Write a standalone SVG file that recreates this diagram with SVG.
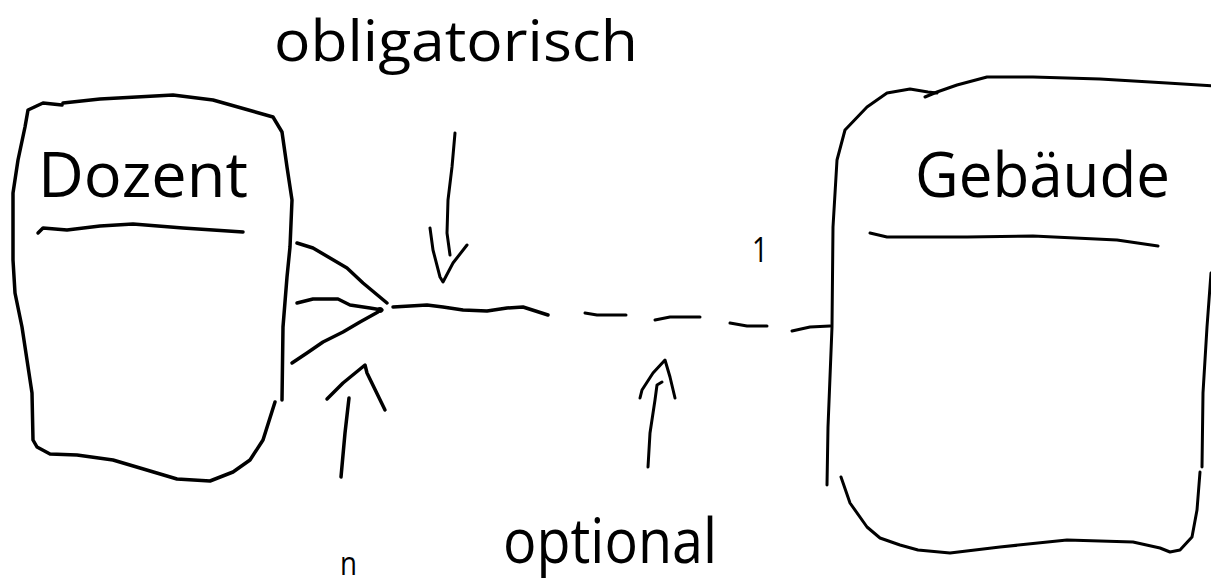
<svg xmlns="http://www.w3.org/2000/svg" width="1211" height="584" viewBox="0 0 1211 584">
<style>
.ink{fill:none;stroke:#000;stroke-width:3.5;stroke-linecap:round;stroke-linejoin:round}
.thin{stroke-width:3}
.lbl{font-family:"Open Sans","Noto Sans","Liberation Sans",sans-serif;fill:#000}
</style>
<rect width="1211" height="584" fill="#fff"/>
<text class="lbl" x="274" y="61" font-size="57" textLength="364" lengthAdjust="spacingAndGlyphs">obligatorisch</text>
<g id="dozent">
<path class="ink" d="M62,105 L43,103 L28,110 L25,127 L18,160 L13,193 L13,260 L15,293 L22,327 L27,360 L32,393 L33,440 L37,447 L50,454 L77,455 L113,460 L140,468 L177,479 L210,481 L233,472 L250,460 L263,440 L275,402"/>
<path class="ink" d="M63,103 L100,99 L173,95 L213,100 L273,117 L282,132 L287,167 L292,200 L290,247 L287,277 L283,327 L282,400"/>
<path class="ink" d="M38,233 L43,228 L67,230 L100,226 L133,224 L183,228 L243,232"/>
<text class="lbl" x="38" y="197" font-size="62" textLength="210" lengthAdjust="spacingAndGlyphs">Dozent</text>
</g>
<g id="gebaeude">
<path class="ink thin" d="M827,485 L828,427 L832,327 L833,227 L837,160 L845,130 L867,107 L887,93 L910,89 L928,92 L937,93"/>
<path class="ink thin" d="M925,97 L937,92 L957,85 L987,77 L1033,77 L1100,79 L1167,83 L1215,86 L1216,270 L1211,273 L1207,327 L1203,393 L1202,467"/>
<path class="ink thin" d="M1200,472 L1197,510 L1192,537 L1180,550 L1170,552 L1160,548 L1133,542 L1067,540 L1000,547 L950,553 L918,550 L900,545 L880,538 L867,527 L850,503 L841,477"/>
<path class="ink thin" d="M870,233 L887,237 L967,237 L1033,236 L1117,240 L1158,246"/>
<text class="lbl" x="915" y="197" font-size="63" textLength="255" lengthAdjust="spacingAndGlyphs">Gebäude</text>
</g>
<g id="connectors">
<path class="ink" d="M297,243 L313,248 L330,258 L347,268 L363,283 L387,303"/>
<path class="ink" d="M297,303 L313,299 L338,299 L350,305 L370,308 L382,310"/>
<path class="ink" d="M292,363 L307,353 L323,342 L343,332 L360,322 L378,312"/>
<circle cx="380" cy="310" r="3"/>
<path class="ink" d="M393,307 L410,306 L427,305 L443,307 L463,310 L487,311 L507,308 L523,307 L548,315"/>
<path class="ink thin" d="M585,313 L597,315 L626,315"/>
<path class="ink thin" d="M655,320 L670,317 L700,317"/>
<path class="ink thin" d="M730,323 L747,326 L767,326"/>
<path class="ink thin" d="M792,331 L810,327 L830,326"/>
<path class="ink thin" d="M455,133 L452,167 L448,200 L447,233 L450,255"/>
<path class="ink thin" d="M430,228 L433,250 L440,277 L443,282 L453,263 L467,245"/>
<path class="ink" d="M341,477 L345,433 L349,398"/>
<path class="ink" d="M327,399 L343,383 L365,365 L367,373 L385,410"/>
<path class="ink thin" d="M648,467 L650,433 L655,400 L657,385 L662,382"/>
<path class="ink thin" d="M640,398 L642,390 L653,373 L665,360 L670,377 L675,398"/>
</g>
<text class="lbl" x="752" y="262" font-size="35" textLength="16" lengthAdjust="spacingAndGlyphs">1</text>
<text class="lbl" x="340" y="575" font-size="32" textLength="17" lengthAdjust="spacingAndGlyphs">n</text>
<text class="lbl" x="503" y="563" font-size="62" textLength="214" lengthAdjust="spacingAndGlyphs">optional</text>
</svg>
